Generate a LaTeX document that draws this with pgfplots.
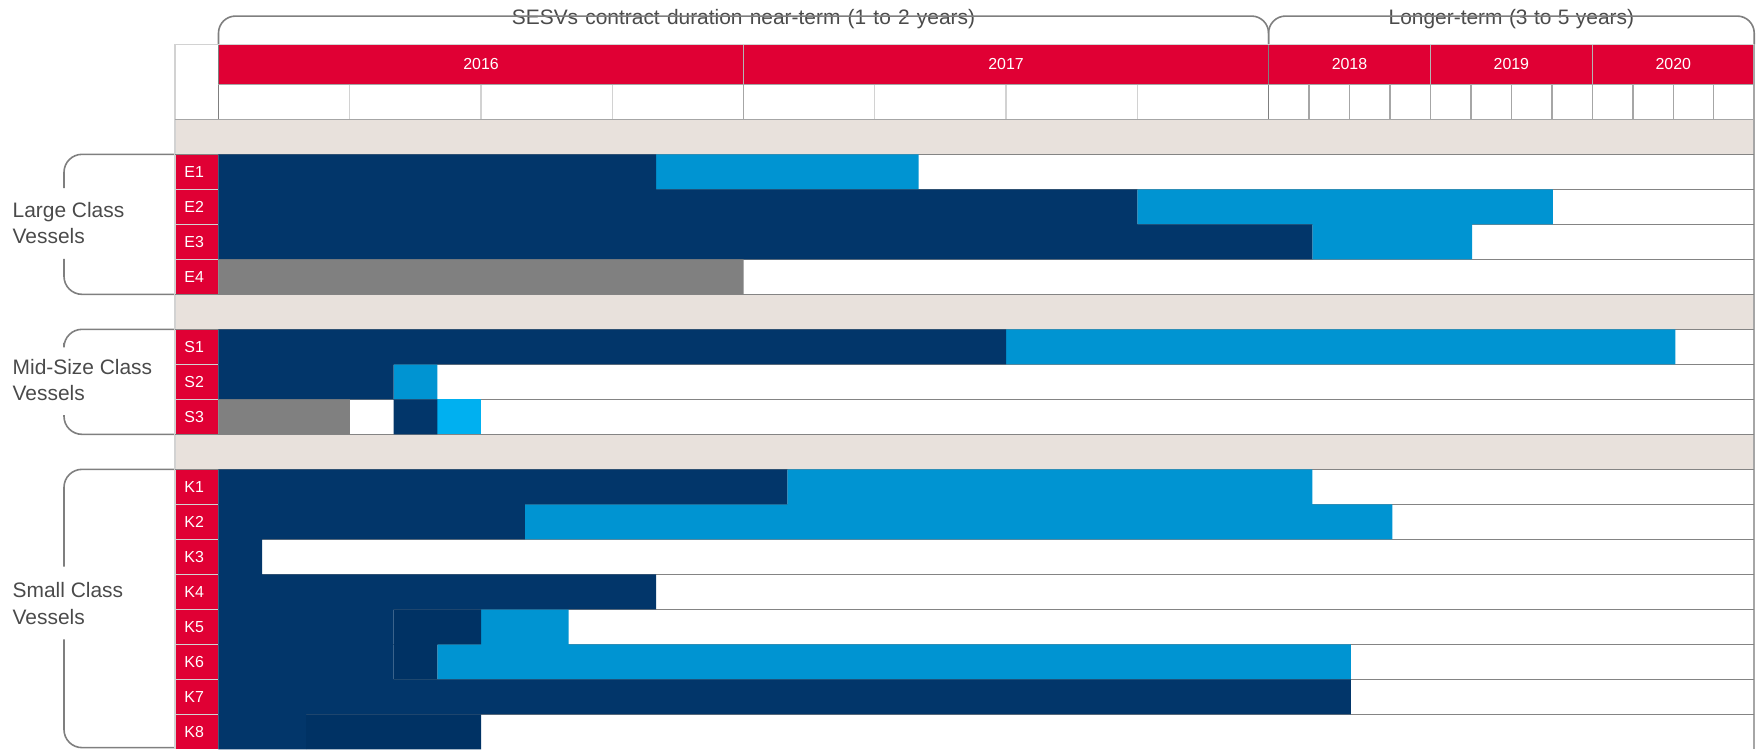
\documentclass[border=0pt]{standalone}
\usepackage{pgfplots}
\pgfplotsset{compat=1.18}
\usepackage{pgfplotstable}
\usepackage{fontspec}
\setmainfont{Liberation Sans}

\definecolor{navy}{HTML}{02366A}
\definecolor{navyd}{HTML}{003264}
\definecolor{sky}{HTML}{0094D2}
\definecolor{cyanb}{HTML}{00B0F0}
\definecolor{grayb}{HTML}{808080}
\definecolor{redh}{HTML}{E00034}
\definecolor{beige}{HTML}{E8E1DC}
\definecolor{txt}{HTML}{4A4A4A}
\definecolor{rule}{HTML}{848484}
\definecolor{midrule}{HTML}{A6A6A6}
\definecolor{lightrule}{HTML}{D2D2D2}
\definecolor{yearrule}{HTML}{B4B4B4}
\definecolor{brk}{HTML}{7F7F7F}

% segment lengths, stacked left to right (1 unit = one month of 2016/17;
% 2018, 2019 and 2020 are each drawn 3.7 units wide)
\pgfplotstableread{
name row  gray gap dark  darker light cyan
E1   0.5  0    0   10    0      6     0
E2   1.5  0    0   21    0      9.5   0
E3   2.5  0    0   25    0      3.65  0
E4   3.5  12   0   0     0      0     0
S1   5.5  0    0   18    0      15.3  0
S2   6.5  0    0   4     0      1     0
S3   7.5  3    1   1     0      0     1
K1   9.5  0    0   13    0      12    0
K2   10.5 0    0   7     0      19.83 0
K3   11.5 0    0   1     0      0     0
K4   12.5 0    0   10    0      0     0
K5   13.5 0    0   4     2      2     0
K6   14.5 0    0   4     1      20.88 0
K7   15.5 0    0   25.88 0      0     0
K8   16.5 0    0   2     4      0     0
}\gantt

\pgfplotsset{
  frame/.style={
    x=21.875bp, y=17.5bp, y dir=reverse,
    xmin=-1, xmax=35.1, ymin=-3.14, ymax=17,
    enlargelimits=false, clip=false,
    at={(0,0)}, anchor=south west,
  },
}

\begin{document}
\begin{tikzpicture}[
  brkline/.style={draw=brk, line width=0.8bp},
  grp/.style={anchor=west, align=left, inner sep=0pt, text=txt,
    font=\fontsize{10.5}{13.2}\selectfont},
  yr/.style={text=white, font=\fontsize{8}{9}\selectfont},
  top/.style={fill=white, inner xsep=12bp, inner ysep=1bp, anchor=base,
    text=txt, font=\fontsize{10.5}{12}\selectfont},
]
% background bands and red cells
\begin{axis}[frame, hide axis]
\fill[beige] (axis cs:-1,-1) rectangle (axis cs:35.1,0);
\fill[beige] (axis cs:-1,4) rectangle (axis cs:35.1,5);
\fill[beige] (axis cs:-1,8) rectangle (axis cs:35.1,9);
\fill[redh] (axis cs:-1,0) rectangle (axis cs:0,4);
\fill[redh] (axis cs:-1,5) rectangle (axis cs:0,8);
\fill[redh] (axis cs:-1,9) rectangle (axis cs:0,17);
\fill[redh] (axis cs:0,-3.14) rectangle (axis cs:35.1,-2);
\end{axis}

\begin{axis}[
  frame,
  xbar stacked, bar width=1,
  axis line style={draw=none},
  tick style={draw=none},
  major tick length=0pt,
  xtick=\empty,
  ytick={0.5,1.5,2.5,3.5,5.5,6.5,7.5,9.5,10.5,...,16.5},
  yticklabels={E1,E2,E3,E4,S1,S2,S3,K1,K2,K3,K4,K5,K6,K7,K8},
  yticklabel style={anchor=west, xshift=1.3bp, text=white,
    font=\fontsize{8}{9}\selectfont},
]
% bars
\addplot[fill=grayb, draw=none] table[x=gray, y=row] {\gantt};
\addplot[fill=none, draw=none] table[x=gap, y=row] {\gantt};
\addplot[fill=navy, draw=none] table[x=dark, y=row] {\gantt};
\addplot[fill=navyd, draw=none] table[x=darker, y=row] {\gantt};
\addplot[fill=sky, draw=none] table[x=light, y=row] {\gantt};
\addplot[fill=cyanb, draw=none] table[x=cyan, y=row] {\gantt};

% row rules
\pgfplotsinvokeforeach{1,2,3,6,7,10,11,12,13,14,15,16}{
  \draw[lightrule, line width=0.8bp] (axis cs:-1,#1) -- (axis cs:0,#1);
  \draw[rule, line width=0.8bp] (axis cs:0,#1) -- (axis cs:35.1,#1);
}
\pgfplotsinvokeforeach{0,4,5,8,9}{
  \draw[rule, line width=0.8bp] (axis cs:-1,#1) -- (axis cs:35.1,#1);
}
\draw[rule!70, line width=0.6bp] (axis cs:0,0) -- (axis cs:0,4);
\draw[rule!70, line width=0.6bp] (axis cs:0,5) -- (axis cs:0,8);
\draw[rule!70, line width=0.6bp] (axis cs:0,9) -- (axis cs:0,17);
\draw[midrule, line width=0.8bp] (axis cs:-1,-1) -- (axis cs:35.1,-1);
\draw[midrule, line width=0.8bp] (axis cs:0,-2) -- (axis cs:35.1,-2);
\draw[lightrule, line width=0.8bp] (axis cs:-1,-3.14) -- (axis cs:35.1,-3.14);

% header verticals and frame
\draw[lightrule, line width=0.8bp] (axis cs:-1,-3.14) -- (axis cs:-1,17);
\draw[midrule, line width=0.8bp] (axis cs:-1,-1) -- (axis cs:-1,0);
\draw[midrule, line width=0.8bp] (axis cs:-1,4) -- (axis cs:-1,5);
\draw[midrule, line width=0.8bp] (axis cs:-1,8) -- (axis cs:-1,9);
\draw[midrule, line width=0.8bp] (axis cs:35.1,-3.14) -- (axis cs:35.1,17);
\pgfplotsinvokeforeach{3,6,9,15,18,21}{
  \draw[lightrule, line width=0.7bp] (axis cs:#1,-2) -- (axis cs:#1,-1);
}
\pgfplotsinvokeforeach{24.925,25.85,26.775,28.625,29.55,30.475,32.325,33.25,34.175}{
  \draw[midrule, line width=0.7bp] (axis cs:#1,-2) -- (axis cs:#1,-1);
}
\pgfplotsinvokeforeach{12,27.7,31.4}{
  \draw[yearrule, line width=0.7bp] (axis cs:#1,-3.14) -- (axis cs:#1,-2);
  \draw[midrule, line width=0.8bp] (axis cs:#1,-2) -- (axis cs:#1,-1);
}
\draw[brk, line width=0.8bp] (axis cs:0,-3.14) -- (axis cs:0,-1);
\draw[brk, line width=0.8bp] (axis cs:24,-3.14) -- (axis cs:24,-1);

% year labels
\node[yr] at (axis cs:6,-2.57) {2016};
\node[yr] at (axis cs:18,-2.57) {2017};
\node[yr] at (axis cs:25.85,-2.57) {2018};
\node[yr] at (axis cs:29.55,-2.57) {2019};
\node[yr] at (axis cs:33.25,-2.57) {2020};

% top brackets
\draw[brkline, rounded corners=8.5bp] (axis cs:0,-3.14) |- (axis cs:12,-3.95) -| (axis cs:24,-3.14);
\draw[brkline, rounded corners=8.5bp] (axis cs:24,-3.14) |- (axis cs:29.55,-3.95) -| (axis cs:35.1,-3.14);
\node[top] at (axis cs:12,-3.723)
  {\spaceskip=3.6bp SESVs contract duration near-term (1 to 2 years)};
\node[top] at (axis cs:29.55,-3.723)
  {\spaceskip=3.2bp Longer-term (3 to 5 years)};

% left group brackets
\draw[brkline, rounded corners=9bp] (axis cs:-1,0) -| (axis cs:-3.531,0.963);
\draw[brkline, rounded corners=9bp] (axis cs:-3.531,2.99) |- (axis cs:-1,4);
\node[grp] at (axis cs:-4.713,1.97) {Large Class\\Vessels};
\draw[brkline, rounded corners=9bp] (axis cs:-1,5) -| (axis cs:-3.531,5.39);
\draw[brkline, rounded corners=9bp] (axis cs:-3.531,7.45) |- (axis cs:-1,8);
\node[grp] at (axis cs:-4.713,6.45) {Mid-Size Class\\Vessels};
\draw[brkline, rounded corners=9bp] (axis cs:-1,9) -| (axis cs:-3.531,11.78);
\draw[brkline, rounded corners=9bp] (axis cs:-3.531,13.86) |- (axis cs:-1,16.95);
\node[grp] at (axis cs:-4.713,12.83) {Small Class\\Vessels};

\coordinate (bbA) at (axis cs:-4.994,-4.409);
\coordinate (bbB) at (axis cs:35.21,17.02);
\end{axis}
\pgfresetboundingbox
\path[use as bounding box] (bbA) rectangle (bbB);
\end{tikzpicture}
\end{document}
